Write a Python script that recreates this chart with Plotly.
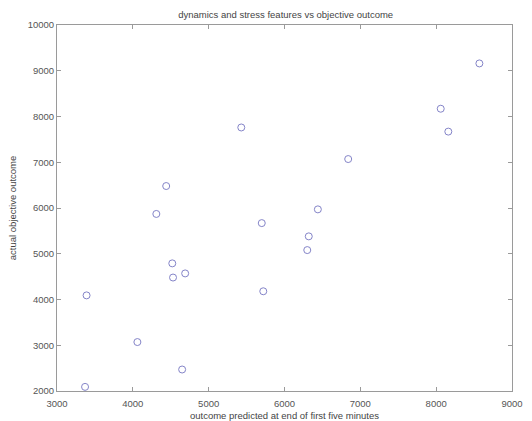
import plotly.graph_objects as go

predicted = [8570, 8060, 8160, 6840, 6440, 6320, 6300, 5430, 4440, 4310,
             5700, 4520, 4530, 4690, 3390, 5720, 4060, 4650, 3370]
actual = [9160, 8170, 7670, 7070, 5970, 5380, 5080, 7760, 6480, 5870,
          5670, 4790, 4480, 4570, 4090, 4180, 3070, 2470, 2090]

title_text = "dynamics and stress features vs objective outcome"
x_label = "outcome predicted at end of first five minutes"
y_label = "actual objective outcome"

fig = go.Figure()
fig.add_trace(go.Scatter(
    x=predicted, y=actual, mode="markers",
    marker=dict(symbol="circle-open", size=7, color="#8484c8",
                line=dict(width=1, color="#8484c8")),
    showlegend=False,
))

FAM = "Liberation Sans, Arial, sans-serif"
font = dict(family=FAM, size=9.5, color="#444444")
axis_common = dict(
    showgrid=False, zeroline=False, showline=True, linecolor="#9a9a9a",
    linewidth=1, mirror="ticks", ticks="inside", ticklen=4, tickcolor="#9a9a9a",
    tickfont=dict(family=FAM, size=9.5, color="#555555"),
    dtick=1000, tickformat="d", automargin=False,
)

fig.update_layout(
    width=532, height=421,
    margin=dict(l=57, r=20, t=25, b=30),
    paper_bgcolor="white", plot_bgcolor="white",
    font=font,
    title=dict(text=title_text, x=0.537, xanchor="center", y=0.965, yanchor="middle",
               font=dict(family=FAM, size=9.5, color="#444444")),
    xaxis=dict(range=[3000, 9000], tick0=3000, ticklabelstandoff=4,
               title=dict(text=x_label, standoff=3,
                          font=dict(family=FAM, size=9.5, color="#444444")),
               **axis_common),
    yaxis=dict(range=[2000, 10000], tick0=2000,
               title=dict(text=y_label, standoff=9,
                          font=dict(family=FAM, size=9.5, color="#444444")),
               **axis_common),
)

fig.write_html("out.html")
